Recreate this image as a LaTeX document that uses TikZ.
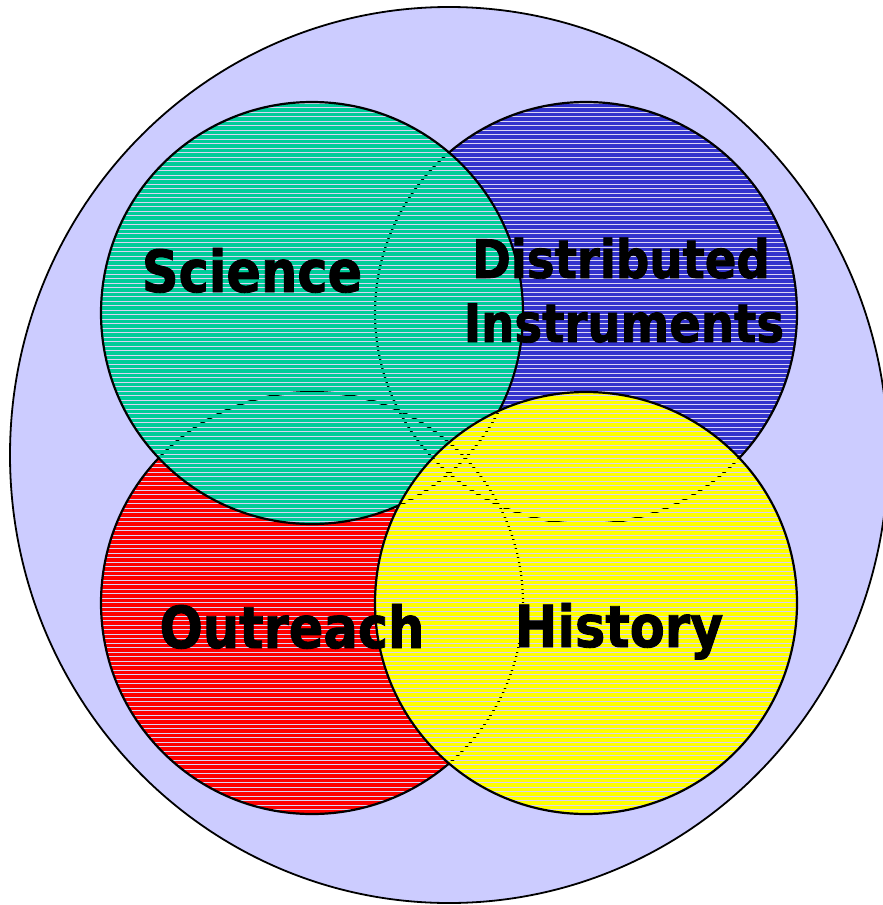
\documentclass[tikz,border=0pt]{standalone}
\usepackage{fontspec}
\newfontfamily\lblfont{DejaVu Sans}[FakeStretch=0.88, BoldFeatures={FakeBold=1.5}]
\definecolor{bglav}{HTML}{CCCCFF}
\definecolor{gapcol}{HTML}{DAD4F4}
\definecolor{scigreen}{HTML}{00CC99}
\definecolor{distblue}{HTML}{3333CC}
\definecolor{outred}{HTML}{FF0000}
\definecolor{histyellow}{HTML}{FFFF00}
\newcommand\stripedcircle[3]{%
  \begin{scope}
    \clip (#1,#2) circle [radius=211pt];
    \foreach \k in {0,...,201} {\fill[#3] (#1-215,\k*4.5) rectangle (#1+215,\k*4.5+3.8);}
  \end{scope}
  \draw[outline] (#1,#2) circle [radius=211pt];
}
\tikzset{
  outline/.style={draw=black, line width=2.2pt},
  lbl/.style={font=\lblfont\bfseries\fontsize{58}{64}\selectfont, inner sep=0pt, anchor=base, text=black},
  lblsmall/.style={font=\lblfont\bfseries\fontsize{53}{60}\selectfont, inner sep=0pt, anchor=base, text=black}
}
\begin{document}
\begin{tikzpicture}[x=1pt,y=-1pt]
\useasboundingbox (0,0) rectangle (883,905);
\clip (0,0) rectangle (883,905);
\fill[white] (0,0) rectangle (883,905);
% outer ellipse
\filldraw[fill=bglav, draw=black, line width=1.8pt] (449,455) ellipse [x radius=439pt, y radius=448pt];
% light base under the stripes
\fill[gapcol] (586,313) circle [radius=211pt];
\fill[gapcol] (312,603) circle [radius=211pt];
\fill[gapcol] (312,313) circle [radius=211pt];
\fill[gapcol] (586,603) circle [radius=211pt];
% striped circles, bottom to top
\stripedcircle{586}{313}{distblue}
\stripedcircle{312}{603}{outred}
\stripedcircle{312}{313}{scigreen}
\stripedcircle{586}{603}{histyellow}
% labels
\node[lbl] (sci) at (252,292) {Science};
\node[lblsmall] (dist) at (621,278) {Distributed};
\node[lblsmall] (instr) at (624,342) {Instruments};
\node[lbl] (outr) at (292,648) {Outreach};
\node[lbl] (hist) at (619,647) {History};
\end{tikzpicture}
\end{document}
